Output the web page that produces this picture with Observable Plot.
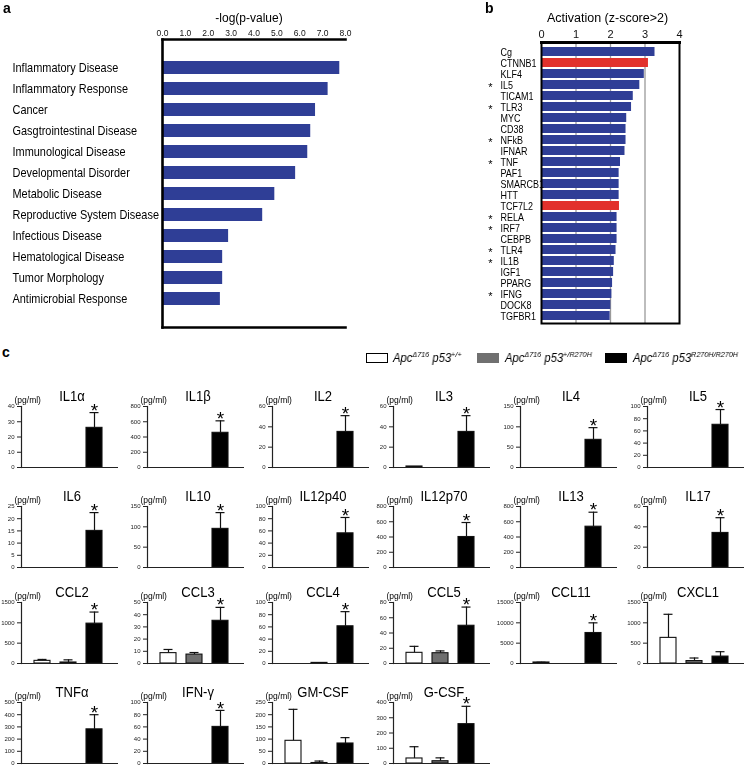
<!DOCTYPE html>
<html><head><meta charset="utf-8">
<script src="https://cdn.jsdelivr.net/npm/d3@7"></script>
<script src="https://cdn.jsdelivr.net/npm/@observablehq/plot@0.6"></script>
<style>
body{margin:0;background:#fff;}
#fig{position:relative;width:745px;height:768px;overflow:hidden;font-family:"Liberation Sans",Arial,sans-serif;color:#000;}
#fig svg{position:absolute;overflow:visible;will-change:transform;}
.plab{position:absolute;font-weight:bold;font-size:14px;line-height:14px;}
.lbox{position:absolute;box-sizing:border-box;height:10px;width:22px;}
.ltxt{position:absolute;font-style:italic;font-size:12.5px;line-height:14px;white-space:nowrap;transform:scaleX(0.9);transform-origin:0 50%;will-change:transform;}
.ltxt sup{font-size:8px;vertical-align:5px;line-height:0;}
</style></head>
<body><div id="fig"></div>
<script>
// ---------- Panel a data ----------
const diseases = ["Inflammatory Disease","Inflammatory Response","Cancer","Gasgtrointestinal Disease","Immunological Disease","Developmental Disorder","Metabolic Disease","Reproductive System Disease","Infectious Disease","Hematological Disease","Tumor Morphology","Antimicrobial Response"];
const logP = [7.75,7.24,6.69,6.48,6.35,5.82,4.91,4.38,2.89,2.63,2.63,2.53];
const aTicks = [0,1,2,3,4,5,6,7,8];

// ---------- Panel b data ----------
const regulators = ["Cg","CTNNB1","KLF4","IL5","TICAM1","TLR3","MYC","CD38","NFkB","IFNAR","TNF","PAF1","SMARCB1","HTT","TCF7L2","RELA","IRF7","CEBPB","TLR4","IL1B","IGF1","PPARG","IFNG","DOCK8","TGFBR1"];
const zscores = [3.29,3.10,2.98,2.85,2.66,2.61,2.47,2.45,2.45,2.42,2.29,2.25,2.25,2.25,2.26,2.19,2.19,2.19,2.16,2.11,2.09,2.06,2.04,2.01,1.99];
const starred = ["IL5","TLR3","NFkB","TNF","RELA","IRF7","TLR4","IL1B","IFNG"];
const highlighted = ["CTNNB1","TCF7L2"];
const bTicks = [0,1,2,3,4];
const bGrid = [1,2,3];

// ---------- Panel c data ----------
const groups = ["p53+/+","p53+/R270H","p53R270H/R270H"];
const cytokines = ["IL1α","IL1β","IL2","IL3","IL4","IL5","IL6","IL10","IL12p40","IL12p70","IL13","IL17","CCL2","CCL3","CCL4","CCL5","CCL11","CXCL1","TNFα","IFN-γ","GM-CSF","G-CSF"];
const yMax = [40,800,60,60,150,100,25,150,100,800,800,60,1500,50,100,80,15000,1500,500,100,250,400];
const yTicks = [
  [0,10,20,30,40],[0,200,400,600,800],[0,20,40,60],[0,20,40,60],[0,50,100,150],[0,20,40,60,80,100],
  [0,5,10,15,20,25],[0,50,100,150],[0,20,40,60,80,100],[0,200,400,600,800],[0,200,400,600,800],[0,20,40,60],
  [0,500,1000,1500],[0,10,20,30,40,50],[0,20,40,60,80,100],[0,20,40,60,80],[0,5000,10000,15000],[0,500,1000,1500],
  [0,100,200,300,400,500],[0,20,40,60,80,100],[0,50,100,150,200,250],[0,100,200,300,400]
];
const meanWT  = [0,0,0,1,0,0, 0,0,0,0,0,0, 65,8.5,0,14,250,630, 0,0,93,33];
const errWT   = [0,0,0,0,0,0, 0,0,0,0,0,0, 35,3,0,8.5,60,580, 0,0,129,77];
const meanHet = [0,0,0,0,0,0, 0,0,0,0,0,0, 25,7.3,1,13.5,0,60, 0,0,2,15];
const errHet  = [0,0,0,0,0,0, 0,0,0,0,0,0, 65,1.7,0,3,0,75, 0,0,8,22];
const meanHom = [26,455,35,35,68,70, 15,95,56,400,535,34, 980,35,61,49.5,7500,170, 280,60,82,258];
const errHom  = [10,157,16,16,30,25, 7.5,40,26,190,190,15, 285,11,24,24.5,2500,120, 120,27,24,117];
const significant = [1,1,1,1,1,1, 1,1,1,1,1,1, 1,1,1,1,1,0, 1,1,0,1];

// ---------- layout ----------
const fig = document.getElementById("fig");
const FONT = "Liberation Sans, Arial, Helvetica, sans-serif";
const baseStyle = {background:"transparent", overflow:"visible", fontFamily: FONT, color:"#000"};
function place(svg, left, top){ svg.style.left = left+"px"; svg.style.top = top+"px"; fig.appendChild(svg); return svg; }
function condense(svg, names, factor){
  svg.querySelectorAll("text").forEach(t => {
    if (names.includes(t.textContent)) {
      const L = t.getComputedTextLength();
      t.setAttribute("textLength", (L*factor).toFixed(2));
      t.setAttribute("lengthAdjust","spacingAndGlyphs");
    }
  });
}
function html(tag, cls, style, content){ const e=document.createElement(tag); e.className=cls; Object.assign(e.style, style); e.innerHTML=content||""; fig.appendChild(e); return e; }

// ---------- Panel a ----------
const aData = diseases.map((name,i)=>({name, v: logP[i]}));
const aSvg = Plot.plot({
  width:360, height:335, marginLeft:162, marginRight:15, marginTop:39, marginBottom:8,
  style: baseStyle,
  x:{domain:[0,8], axis:null},
  y:{domain:diseases, range:[48,318], padding:0.38, axis:null},
  marks:[
    Plot.barX(aData, {x:"v", y:"name", fill:"#2f3e96"}),
    Plot.axisX(aTicks, {anchor:"top", label:null, tickSize:0, tickPadding:4, tickFormat:d=>d.toFixed(1), fontSize:8.5, color:"#111"}),
    Plot.frame({anchor:"top", stroke:"#000", strokeWidth:2.6}),
    Plot.frame({anchor:"left", stroke:"#000", strokeWidth:2.6}),
    Plot.frame({anchor:"bottom", stroke:"#000", strokeWidth:2.6}),
    Plot.text(aData, {y:"name", text:"name", frameAnchor:"left", dx:-150, textAnchor:"start", fontSize:13.5, fill:"#000"}),
    Plot.text(["-log(p-value)"], {frameAnchor:"top", dy:-26, dx:-5, fontSize:12, fill:"#000"})
  ]
});
place(aSvg, 0, 0);
condense(aSvg, diseases, 0.81);

// ---------- Panel b ----------
const bData = regulators.map((name,i)=>({name, z: zscores[i], hi: highlighted.includes(name) ? "hi" : "lo"}));
const bSvg = Plot.plot({
  width:205, height:330, marginLeft:61, marginRight:6, marginTop:42, marginBottom:7,
  style: baseStyle,
  x:{domain:[0,4], axis:null},
  y:{domain:regulators, range:[44.5,322.5], padding:0.2, axis:null},
  color:{domain:["lo","hi"], range:["#2f3e96","#e2312c"]},
  marks:[
    Plot.ruleX(bGrid, {stroke:"#9a9a9a", strokeWidth:1.3}),
    Plot.barX(bData, {x:"z", y:"name", fill:"hi"}),
    Plot.frame({stroke:"#000", strokeWidth:2}),
    Plot.frame({anchor:"top", stroke:"#000", strokeWidth:3}),
    Plot.axisX(bTicks, {anchor:"top", label:null, tickSize:0, tickPadding:5, fontSize:11, color:"#111"}),
    Plot.text(bData, {y:"name", text:"name", frameAnchor:"left", dx:-41, textAnchor:"start", fontSize:11.5, fill:"#000"}),
    Plot.text(bData.filter(d=>starred.includes(d.name)), {y:"name", text:()=>"*", frameAnchor:"left", dx:-51, dy:2, textAnchor:"middle", fontSize:11, fill:"#000"}),
    Plot.text(["Activation (z-score>2)"], {frameAnchor:"top", dy:-29, dx:-3, fontSize:12.5, fill:"#000"})
  ]
});
place(bSvg, 480, 0);
condense(bSvg, regulators, 0.78);

// ---------- Panel letters ----------
html("div","plab",{left:"3px", top:"1px"},"a");
html("div","plab",{left:"485px", top:"1px"},"b");
html("div","plab",{left:"2px", top:"345px"},"c");

// ---------- Legend ----------
html("div","lbox",{left:"366px", top:"353px", border:"1.2px solid #000", background:"#fff"});
html("div","ltxt",{left:"393px", top:"351px"},"Apc<sup>Δ716</sup> p53<sup>+/+</sup>");
html("div","lbox",{left:"477px", top:"353px", background:"#707070"});
html("div","ltxt",{left:"505px", top:"351px"},"Apc<sup>Δ716</sup> p53<sup>+/R270H</sup>");
html("div","lbox",{left:"605px", top:"353px", background:"#000"});
html("div","ltxt",{left:"633px", top:"351px"},"Apc<sup>Δ716</sup> p53<sup>R270H/R270H</sup>");

// ---------- Panel c small multiples ----------
const colX = [21,147,272,393,520,647];
const rowTop = [406,506,602,702];
const H = 61;
cytokines.forEach((name,i)=>{
  const means = [meanWT[i], meanHet[i], meanHom[i]];
  const errs = [errWT[i], errHet[i], errHom[i]];
  const rows = groups.map((g,j)=>({g, mean:means[j], top:means[j]+errs[j], err:errs[j]}));
  const shown = rows.filter(d=>d.mean>0);
  const whisk = rows.filter(d=>d.err>0);
  const stars = significant[i] ? rows.filter(d=>d.g===groups[2]) : [];
  const svg = Plot.plot({
    width:123, height:36+H+4, marginLeft:24, marginRight:2, marginTop:36, marginBottom:4,
    style: baseStyle,
    x:{type:"band", domain:groups, range:[26,116], padding:0.37, axis:null},
    y:{domain:[0,yMax[i]], axis:null},
    color:{domain:groups, range:["#ffffff","#6e6e6e","#000000"]},
    marks:[
      Plot.axisY(yTicks[i], {label:null, tickSize:4, tickPadding:3, fontSize:6, tickFormat:"d", color:"#222"}),
      Plot.frame({anchor:"left", stroke:"#222", strokeWidth:1.2}),
      Plot.ruleX(whisk, {x:"g", y1:"mean", y2:"top", stroke:"#111", strokeWidth:1.2}),
      Plot.tickY(whisk, {x:"g", y:"top", insetLeft:3.5, insetRight:3.5, stroke:"#111", strokeWidth:1.2}),
      Plot.barY(shown, {x:"g", y:"mean", fill:"g", stroke:"#111", strokeWidth:1.1}),
      Plot.ruleY([0], {stroke:"#222", strokeWidth:1.2}),
      Plot.text(stars, {x:"g", y:"top", text:()=>"*", dy:-2, fontSize:19, fill:"#000"}),
      Plot.text([name], {frameAnchor:"top", dy:-16, dx:2, fontSize:14.5, fill:"#000"}),
      Plot.text(["(pg/ml)"], {frameAnchor:"top-left", dx:-7, dy:-10, fontSize:8.5, fill:"#000"})
    ]
  });
  place(svg, colX[i%6]-24, rowTop[Math.floor(i/6)]-36);
  condense(svg, [name], 0.9);
});
</script>
</body></html>
